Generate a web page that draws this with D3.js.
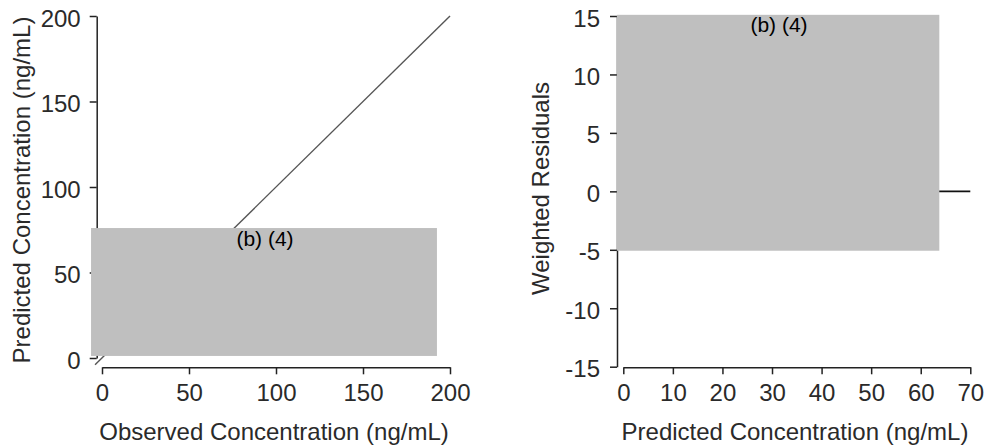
<!DOCTYPE html>
<html>
<head>
<meta charset="utf-8">
<script src="https://cdn.jsdelivr.net/npm/d3@7"></script>
<style>
  html, body { margin: 0; padding: 0; background: #fff; }
  svg { display: block; font-family: "Liberation Sans", Arial, sans-serif; }
  .axis path, .axis line { stroke: #222; stroke-width: 1.5; }
  .axis text { font-size: 24px; fill: #2a2a2a; font-family: "Liberation Sans", Arial, sans-serif; }
  .title { font-size: 24px; fill: #2a2a2a; }
  .redact-label { font-size: 21px; fill: #000; }
</style>
</head>
<body>
<script>
// Goodness-of-fit panels: observed vs predicted, and weighted residuals vs predicted.
const obsTicks = [0, 50, 100, 150, 200];
const predTicks = [0, 50, 100, 150, 200];
const residXTicks = [0, 10, 20, 30, 40, 50, 60, 70];
const residYTicks = [-15, -10, -5, 0, 5, 10, 15];

// Line of identity (observed = predicted)
const identityLine = [[-4, -4], [200, 200]];
// Zero reference line for the residuals
const zeroLine = [[0, 0], [70, 0]];

// Redacted regions, in data units of each panel
const redactLeft = { x0: -6.3, x1: 192.5, y0: 1.2, y1: 76 };
const redactRight = { x0: -1.3, x1: 63.75, y0: -5.08, y1: 15.1 };
const redactText = "(b) (4)";

const W = 986, H = 447;
const svg = d3.select("body").append("svg").attr("width", W).attr("height", H);

// ---------- left panel ----------
const xL = d3.scaleLinear().domain([0, 200]).range([102, 450]);
const yL = d3.scaleLinear().domain([0, 200]).range([358, 16]);

const gL = svg.append("g");
gL.append("g").attr("class", "axis")
  .attr("transform", "translate(0,367.3)")
  .call(d3.axisBottom(xL).tickValues(obsTicks).tickSize(7).tickSizeOuter(0).tickPadding(10))
  .selectAll("text").attr("dy", "0.71em");
gL.append("g").attr("class", "axis")
  .attr("transform", "translate(96.7,0)")
  .call(d3.axisLeft(yL).tickValues(predTicks).tickSize(7).tickSizeOuter(0).tickPadding(9))
  .selectAll("text").attr("dy", "0.42em");

gL.append("path")
  .datum(identityLine)
  .attr("fill", "none").attr("stroke", "#555").attr("stroke-width", 1.4)
  .attr("d", d3.line().x(d => xL(d[0])).y(d => yL(d[1])));

gL.append("rect")
  .attr("x", xL(redactLeft.x0)).attr("y", yL(redactLeft.y1))
  .attr("width", xL(redactLeft.x1) - xL(redactLeft.x0))
  .attr("height", yL(redactLeft.y0) - yL(redactLeft.y1))
  .attr("fill", "#bfbfbf");
gL.append("text").attr("class", "redact-label")
  .attr("x", 265).attr("y", 246).attr("text-anchor", "middle").text(redactText);

gL.append("text").attr("class", "title")
  .attr("x", (xL(0) + xL(200)) / 2 - 2).attr("y", 440).attr("text-anchor", "middle")
  .text("Observed Concentration (ng/mL)");
gL.append("text").attr("class", "title")
  .attr("transform", `translate(30,${(yL(0) + yL(200)) / 2 + 3}) rotate(-90)`)
  .attr("text-anchor", "middle")
  .text("Predicted Concentration (ng/mL)");

// ---------- right panel ----------
const xR = d3.scaleLinear().domain([0, 70]).range([623.3, 970.3]);
const yR = d3.scaleLinear().domain([-15, 15]).range([366.7, 16]);

const gR = svg.append("g");
gR.append("g").attr("class", "axis")
  .attr("transform", "translate(0,367.3)")
  .call(d3.axisBottom(xR).tickValues(residXTicks).tickSize(7).tickSizeOuter(0).tickPadding(10))
  .selectAll("text").attr("dy", "0.71em");
gR.append("g").attr("class", "axis")
  .attr("transform", "translate(617,0)")
  .call(d3.axisLeft(yR).tickValues(residYTicks).tickSize(7).tickSizeOuter(0).tickPadding(10)
    .tickFormat(d => d < 0 ? "-" + Math.abs(d) : String(d)))
  .selectAll("text").attr("dy", "0.42em");

gR.append("path")
  .datum(zeroLine)
  .attr("fill", "none").attr("stroke", "#111").attr("stroke-width", 1.6)
  .attr("d", d3.line().x(d => xR(d[0])).y(d => yR(d[1])));

gR.append("rect")
  .attr("x", xR(redactRight.x0)).attr("y", yR(redactRight.y1))
  .attr("width", xR(redactRight.x1) - xR(redactRight.x0))
  .attr("height", yR(redactRight.y0) - yR(redactRight.y1))
  .attr("fill", "#bfbfbf");
gR.append("text").attr("class", "redact-label")
  .attr("x", 779).attr("y", 32).attr("text-anchor", "middle").text(redactText);

gR.append("text").attr("class", "title")
  .attr("x", 795).attr("y", 440).attr("text-anchor", "middle")
  .text("Predicted Concentration (ng/mL)");
gR.append("text").attr("class", "title")
  .attr("transform", `translate(549,188.5) rotate(-90)`)
  .attr("text-anchor", "middle")
  .text("Weighted Residuals");
</script>
</body>
</html>
